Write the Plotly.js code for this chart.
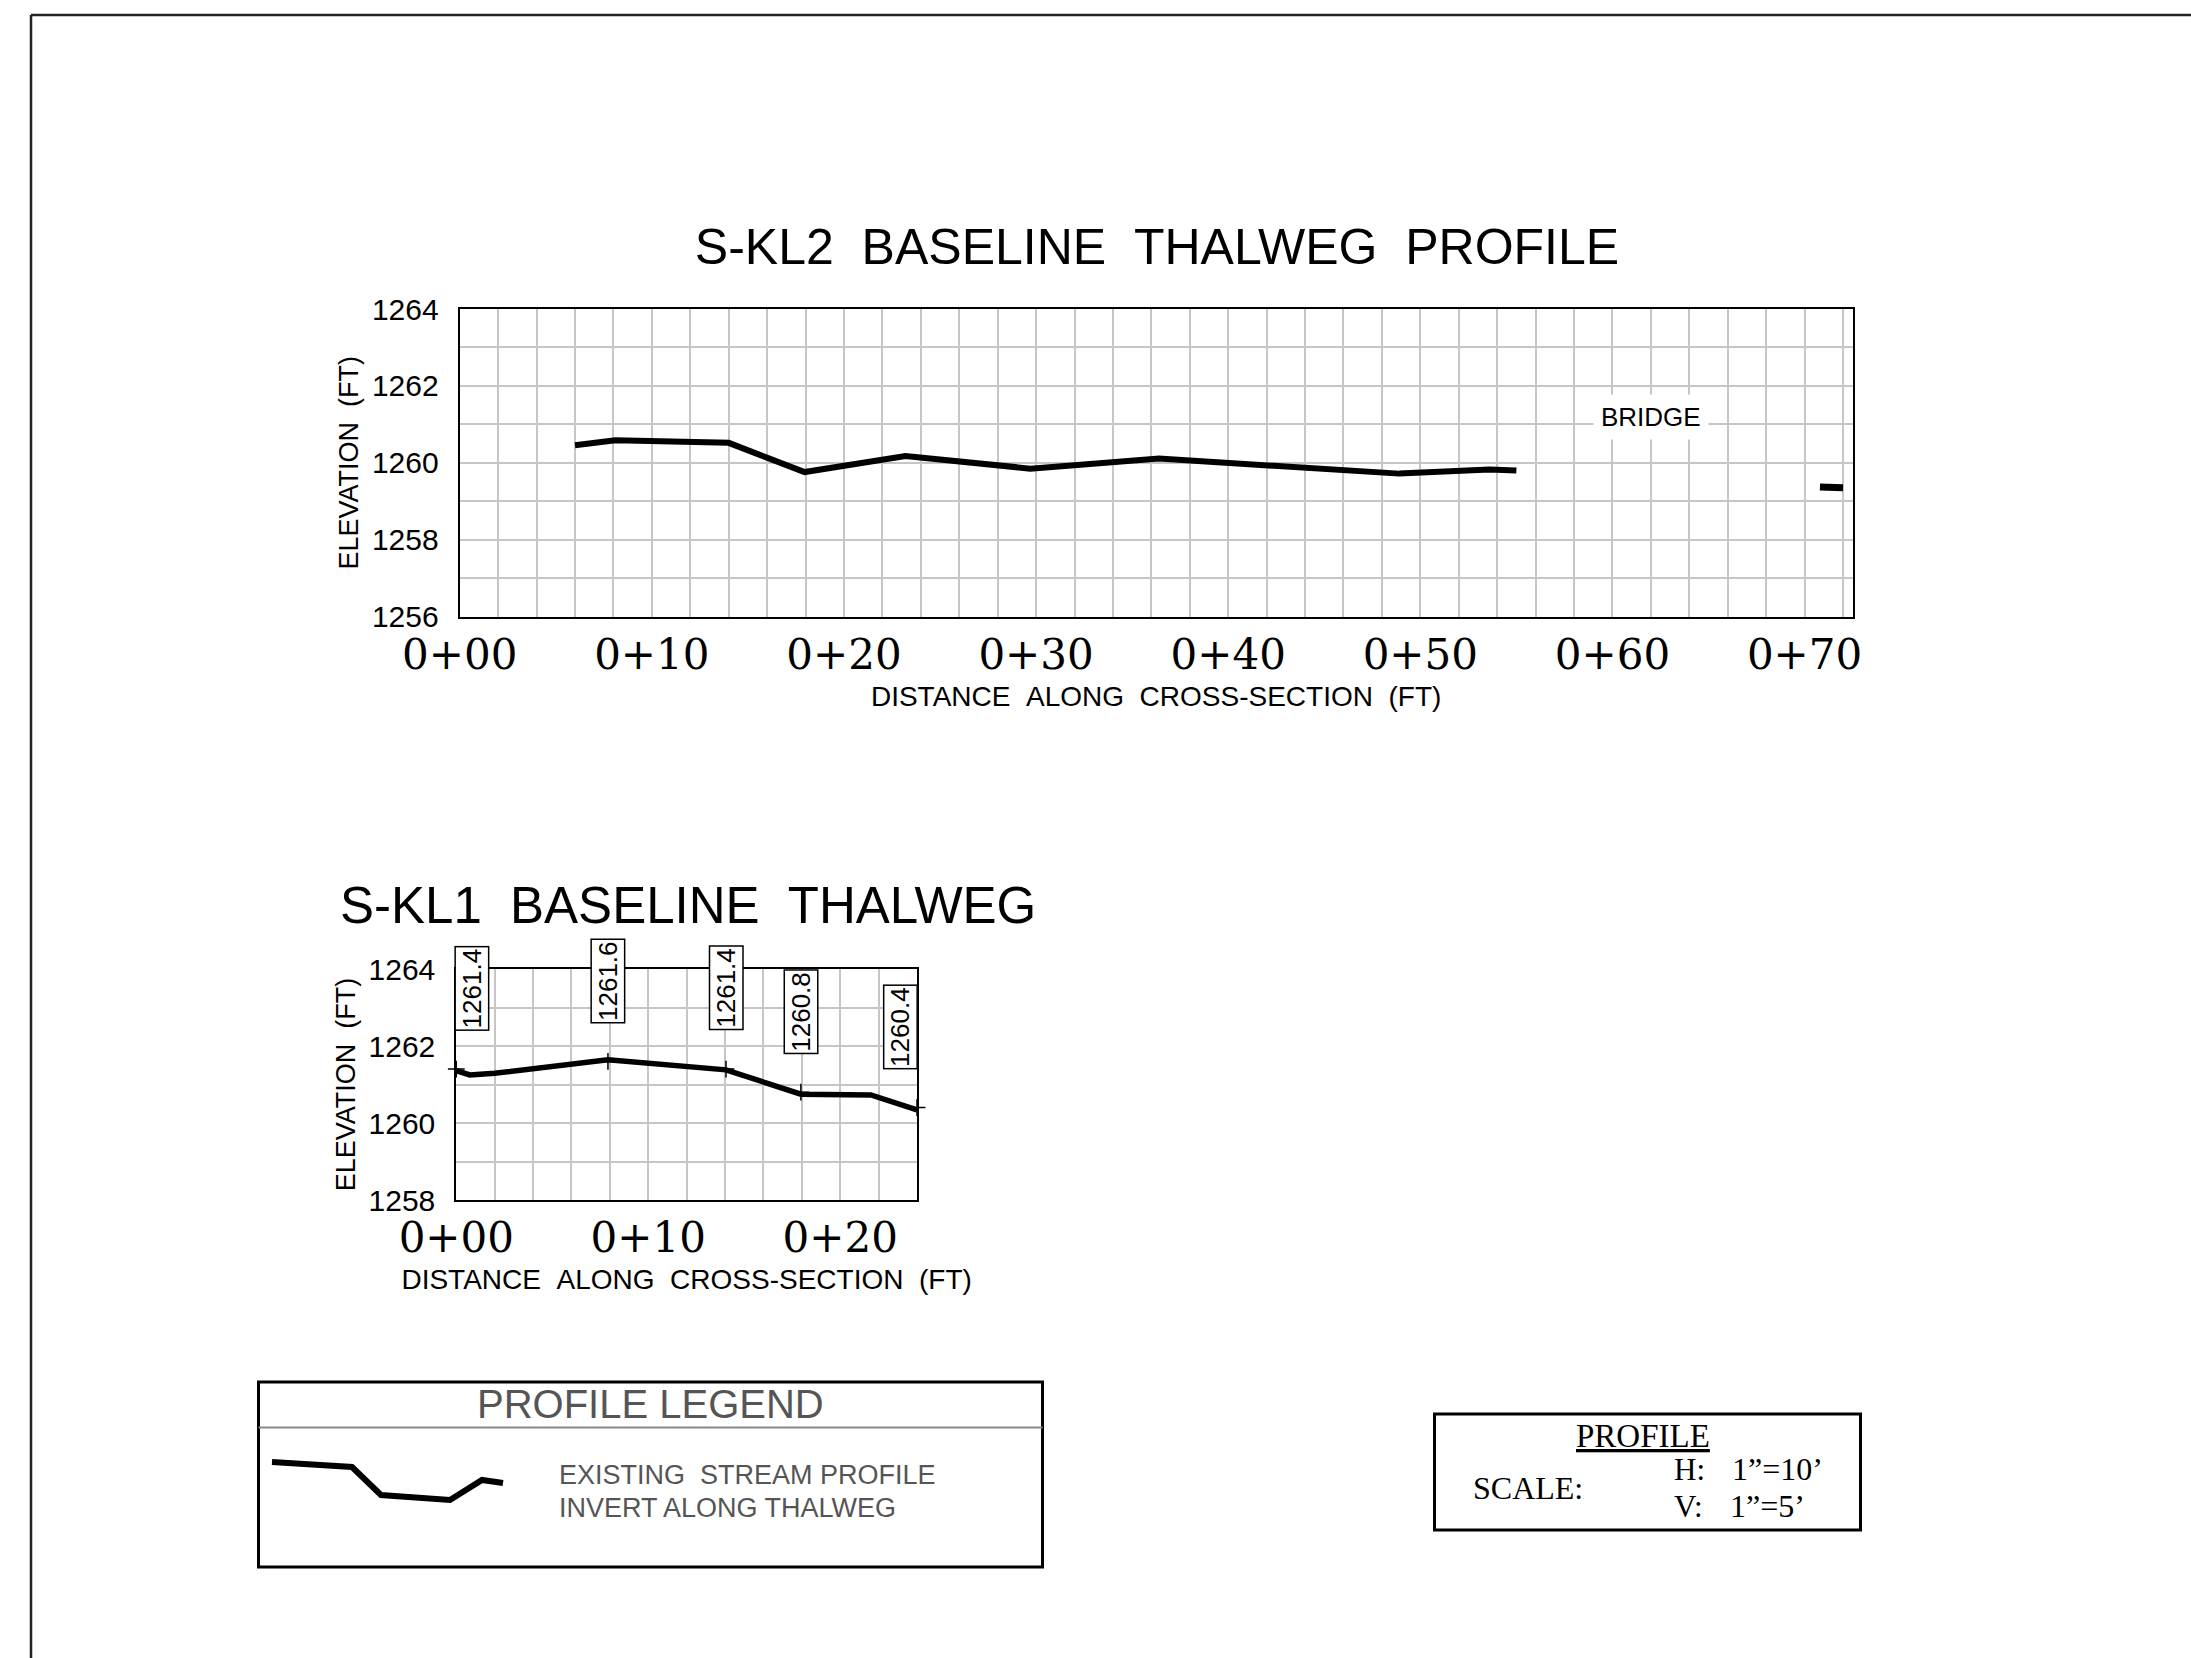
<!DOCTYPE html>
<html>
<head>
<meta charset="utf-8">
<script src="https://cdn.plot.ly/plotly-3.0.1.min.js"></script>
<style>
  html, body { margin: 0; padding: 0; background: #ffffff; }
  #chart { width: 2191px; height: 1658px; }
</style>
</head>
<body>
<div id="chart"></div>
<script>
// ---------------- DATA ----------------
// S-KL2 baseline thalweg profile (station in ft, elevation in ft)
const kl2Station = [6.0, 8.1, 14.0, 17.95, 23.2, 29.7, 36.4, 45.0, 48.9, 53.6, 55.0];
const kl2Elev    = [1260.46, 1260.59, 1260.52, 1259.76, 1260.18, 1259.85, 1260.11, 1259.86, 1259.72, 1259.83, 1259.80];
// short segment past the bridge
const bridgeStation = [70.8, 72.0];
const bridgeElev    = [1259.37, 1259.35];

// S-KL1 baseline thalweg
const kl1Station = [0.0, 0.7, 2.0, 7.9, 14.05, 17.95, 21.6, 24.0];
const kl1Elev    = [1261.36, 1261.25, 1261.29, 1261.64, 1261.38, 1260.75, 1260.73, 1260.34];
// labelled stations and their elevation call-outs
const kl1LabelStation = [0.0, 7.9, 14.05, 17.95, 24.0];
const kl1LabelElev    = [1261.4, 1261.6, 1261.4, 1260.8, 1260.4];

// tick labels
const kl2TickVals   = [0, 10, 20, 30, 40, 50, 60, 70];
const kl2TickLabels = ['0+00', '0+10', '0+20', '0+30', '0+40', '0+50', '0+60', '0+70'];
const kl1TickVals   = [0, 10, 20];
const kl1TickLabels = ['0+00', '0+10', '0+20'];

// text
const titleTop    = 'S-KL2\u00a0\u00a0BASELINE\u00a0\u00a0THALWEG\u00a0\u00a0PROFILE';
const titleBottom = 'S-KL1\u00a0\u00a0BASELINE\u00a0\u00a0THALWEG';
const xTitle = 'DISTANCE\u00a0\u00a0ALONG\u00a0\u00a0CROSS-SECTION\u00a0\u00a0(FT)';
const yTitle = 'ELEVATION\u00a0\u00a0(FT)';

// ---------------- LAYOUT HELPERS ----------------
const W = 2191, H = 1658;
const px = x => x / W;
const py = y => 1 - y / H;

const SANS = 'Liberation Sans, Arial, sans-serif';
const SERIF_TICK = 'DejaVu Serif, serif';
const SERIF = 'Liberation Serif, Times New Roman, serif';
const GRID = '#c6c6c6';

function xAxisCfg(domain, range, tickvals, ticktext, anchor) {
  return {
    domain: domain, range: range, anchor: anchor,
    tickmode: 'array', tickvals: tickvals, ticktext: ticktext,
    tickfont: { family: SERIF_TICK, size: 42, color: '#000' },
    ticks: '', ticklabelstandoff: 0,
    showgrid: true, gridcolor: GRID, gridwidth: 2,
    minor: { tick0: 0, dtick: 2, showgrid: true, gridcolor: GRID, gridwidth: 2, ticks: '' },
    showline: true, linecolor: '#000', linewidth: 2, mirror: true,
    zeroline: false, fixedrange: true,
    title: { text: xTitle, font: { family: SANS, size: 28, color: '#000' }, standoff: 8 }
  };
}
function yAxisCfg(domain, range, anchor) {
  return {
    domain: domain, range: range, anchor: anchor,
    tick0: range[0], dtick: 2,
    tickfont: { family: SANS, size: 30, color: '#000' },
    ticks: '', ticklabelstandoff: 13,
    showgrid: true, gridcolor: GRID, gridwidth: 2,
    minor: { tick0: range[0], dtick: 1, showgrid: true, gridcolor: GRID, gridwidth: 2, ticks: '' },
    showline: true, linecolor: '#000', linewidth: 2, mirror: true,
    zeroline: false, fixedrange: true,
    title: { text: yTitle, font: { family: SANS, size: 27, color: '#000' }, standoff: 5 }
  };
}

// ---------------- TRACES ----------------
const traces = [
  { type: 'scatter', mode: 'lines', x: kl2Station, y: kl2Elev, xaxis: 'x', yaxis: 'y',
    line: { color: '#000', width: 6 }, showlegend: false, hoverinfo: 'skip' },
  { type: 'scatter', mode: 'lines', x: bridgeStation, y: bridgeElev, xaxis: 'x', yaxis: 'y',
    line: { color: '#000', width: 7 }, showlegend: false, hoverinfo: 'skip' },
  { type: 'scatter', mode: 'lines', x: kl1Station, y: kl1Elev, xaxis: 'x2', yaxis: 'y2',
    line: { color: '#000', width: 5.5 }, showlegend: false, hoverinfo: 'skip' },
  { type: 'scatter', mode: 'markers', x: kl1LabelStation, y: kl1LabelElev, xaxis: 'x2', yaxis: 'y2',
    marker: { symbol: 'cross-thin', size: 12, color: '#000', line: { color: '#000', width: 1.5 } },
    cliponaxis: false, showlegend: false, hoverinfo: 'skip' }
];

// ---------------- ANNOTATIONS ----------------
const annotations = [];

// bottom chart title
annotations.push({ xref: 'paper', yref: 'paper', x: px(688), y: py(906), xanchor: 'center', yanchor: 'middle',
  text: titleBottom, showarrow: false, font: { family: SANS, size: 51, color: '#000' } });

// BRIDGE label
annotations.push({ xref: 'x', yref: 'y', x: 62.0, y: 1261.18, text: 'BRIDGE', showarrow: false,
  font: { family: SANS, size: 26, color: '#000' }, bgcolor: '#ffffff', borderpad: 7 });

// elevation call-outs on S-KL1
kl1LabelStation.forEach((s, i) => {
  const xPos = Math.min(Math.max(s, 0.8), 23.15);
  annotations.push({ xref: 'x2', yref: 'y2', x: xPos, y: kl1LabelElev[i] + 2.1,
    xanchor: 'center', yanchor: 'middle', textangle: -90,
    text: kl1LabelElev[i].toFixed(1), showarrow: false,
    font: { family: SANS, size: 26, color: '#000' },
    bgcolor: '#ffffff', bordercolor: '#000', borderwidth: 1.5, borderpad: 1 });
});

// profile legend texts
annotations.push({ xref: 'paper', yref: 'paper', x: px(650.5), y: py(1404), xanchor: 'center', yanchor: 'middle',
  text: 'PROFILE LEGEND', showarrow: false, font: { family: SANS, size: 40, color: '#555' } });
annotations.push({ xref: 'paper', yref: 'paper', x: px(557), y: py(1475), xanchor: 'left', yanchor: 'middle',
  text: 'EXISTING\u00a0\u00a0STREAM PROFILE', showarrow: false, font: { family: SANS, size: 27, color: '#555' } });
annotations.push({ xref: 'paper', yref: 'paper', x: px(557), y: py(1508), xanchor: 'left', yanchor: 'middle',
  text: 'INVERT ALONG THALWEG', showarrow: false, font: { family: SANS, size: 27, color: '#555' } });

// scale box texts
annotations.push({ xref: 'paper', yref: 'paper', x: px(1643), y: py(1436), xanchor: 'center', yanchor: 'middle',
  text: '<u>PROFILE</u>', showarrow: false, font: { family: SERIF, size: 33, color: '#000' } });
annotations.push({ xref: 'paper', yref: 'paper', x: px(1471), y: py(1488), xanchor: 'left', yanchor: 'middle',
  text: 'SCALE:', showarrow: false, font: { family: SERIF, size: 32, color: '#000' } });
annotations.push({ xref: 'paper', yref: 'paper', x: px(1672), y: py(1469), xanchor: 'left', yanchor: 'middle',
  text: 'H:', showarrow: false, font: { family: SERIF, size: 31, color: '#000' } });
annotations.push({ xref: 'paper', yref: 'paper', x: px(1730), y: py(1469), xanchor: 'left', yanchor: 'middle',
  text: '1\u201d=10\u2019', showarrow: false, font: { family: SERIF, size: 32, color: '#000' } });
annotations.push({ xref: 'paper', yref: 'paper', x: px(1672), y: py(1506), xanchor: 'left', yanchor: 'middle',
  text: 'V:', showarrow: false, font: { family: SERIF, size: 31, color: '#000' } });
annotations.push({ xref: 'paper', yref: 'paper', x: px(1728), y: py(1506), xanchor: 'left', yanchor: 'middle',
  text: '1\u201d=5\u2019', showarrow: false, font: { family: SERIF, size: 32, color: '#000' } });

// ---------------- SHAPES ----------------
const legendSample = [[272, 1462], [352, 1467], [381, 1495], [450, 1500], [482, 1480], [503, 1483]];
const samplePath = legendSample.map((p, i) => (i ? 'L' : 'M') + px(p[0]).toFixed(5) + ',' + py(p[1]).toFixed(5)).join(' ');

const shapes = [
  // sheet border
  { type: 'line', xref: 'paper', yref: 'paper', x0: px(31), y0: py(15), x1: 1.02, y1: py(15), line: { color: '#222', width: 2.5 } },
  { type: 'line', xref: 'paper', yref: 'paper', x0: px(31), y0: py(15), x1: px(31), y1: -0.02, line: { color: '#222', width: 2.5 } },
  // profile legend box
  { type: 'rect', xref: 'paper', yref: 'paper', x0: px(258.5), y0: py(1382), x1: px(1042.5), y1: py(1567), line: { color: '#000', width: 3 } },
  { type: 'line', xref: 'paper', yref: 'paper', x0: px(258.5), y0: py(1427.5), x1: px(1042.5), y1: py(1427.5), line: { color: '#888', width: 2 } },
  { type: 'path', xref: 'paper', yref: 'paper', path: samplePath, line: { color: '#000', width: 6 } },
  // scale box
  { type: 'rect', xref: 'paper', yref: 'paper', x0: px(1434.5), y0: py(1414), x1: px(1860.5), y1: py(1530), line: { color: '#000', width: 3 } }
];

// ---------------- LAYOUT ----------------
const layout = {
  width: W, height: H,
  margin: { l: 0, r: 0, t: 0, b: 0 },
  paper_bgcolor: '#ffffff', plot_bgcolor: '#ffffff',
  showlegend: false,
  title: { text: titleTop, x: px(1157), xanchor: 'center', y: py(246), yanchor: 'middle',
           font: { family: SANS, size: 50, color: '#000' } },
  xaxis:  xAxisCfg([px(459.7), px(1852.6)], [0, 72.5], kl2TickVals, kl2TickLabels, 'y'),
  yaxis:  yAxisCfg([py(616.7), py(309)], [1256, 1264], 'x'),
  xaxis2: xAxisCfg([px(456.3), px(917)], [0, 24], kl1TickVals, kl1TickLabels, 'y2'),
  yaxis2: yAxisCfg([py(1200), py(969)], [1258, 1264], 'x2'),
  annotations: annotations,
  shapes: shapes
};

Plotly.newPlot('chart', traces, layout, { staticPlot: true, displayModeBar: false });
</script>
</body>
</html>
